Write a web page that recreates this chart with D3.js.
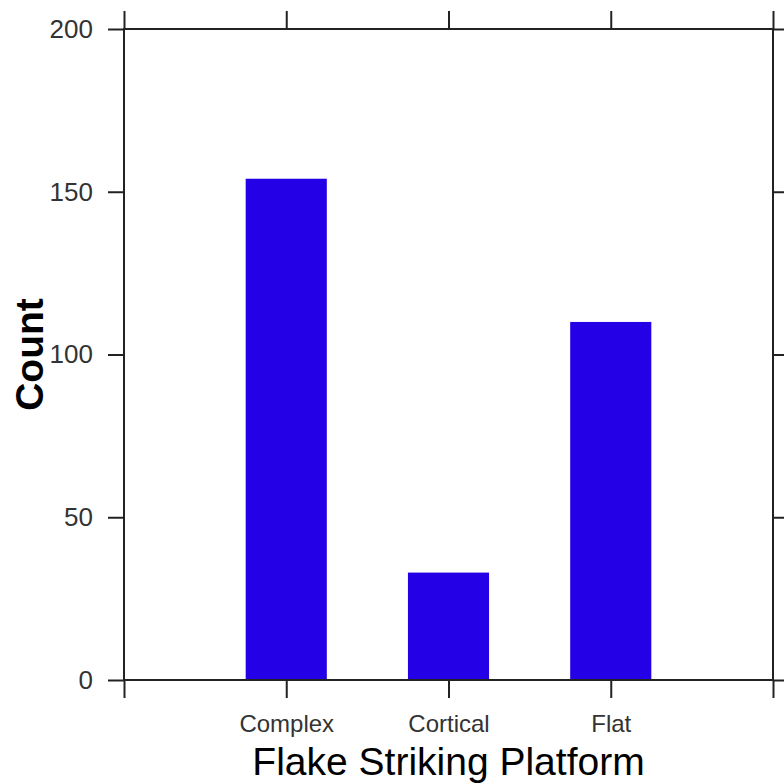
<!DOCTYPE html>
<html>
<head>
<meta charset="utf-8">
<script src="https://cdn.jsdelivr.net/npm/d3@7"></script>
<style>
  body { margin: 0; background: #fff; }
  .axis text { font-family: "Liberation Sans", Arial, sans-serif; fill: #333; }
  .axis path { display: none; }
  .axis line { stroke: #222; stroke-width: 2; }
</style>
</head>
<body>
<div id="chart"></div>
<script>
const platforms = ["Complex", "Cortical", "Flat"]
const counts = [154, 33, 110]
const yTicks = [0, 50, 100, 150, 200]

const width = 784
const height = 783
const margin = { top: 29, bottom: 103, left: 124, right: 11 }
const innerW = width - margin.left - margin.right
const innerH = height - margin.top - margin.bottom

const svg = d3.select("#chart").append("svg").attr("width", width).attr("height", height)
const g = svg.append("g").attr("transform", `translate(${margin.left}, ${margin.top})`)

// categories sit at 1..n, box runs from 0 to n+1
const x = d3.scaleLinear().domain([0, platforms.length + 1]).range([0, innerW])
const y = d3.scaleLinear().domain([0, 200]).range([innerH, 0])
const xTickVals = d3.range(0, platforms.length + 2)

// bars
g.selectAll("rect.bar").data(counts).enter()
    .append("rect")
    .attr("class", "bar")
    .attr("x", (d, i) => x(i + 1 - 0.25))
    .attr("width", x(0.5) - x(0))
    .attr("y", d => y(d))
    .attr("height", d => y(0) - y(d))
    .attr("fill", "#2300e5")

// axes
g.append("g").attr("class", "axis")
    .attr("transform", `translate(0, ${innerH})`)
    .call(d3.axisBottom(x).tickValues(xTickVals).tickSize(18).tickPadding(17)
        .tickFormat(i => platforms[i - 1] || ""))
    .selectAll("text").style("font-size", "24px")

g.append("g").attr("class", "axis")
    .call(d3.axisTop(x).tickValues(xTickVals).tickSize(18).tickFormat(""))

g.append("g").attr("class", "axis")
    .call(d3.axisLeft(y).tickValues(yTicks).tickSize(16).tickPadding(15))
    .selectAll("text").style("font-size", "26px")

g.append("g").attr("class", "axis")
    .attr("transform", `translate(${innerW}, 0)`)
    .call(d3.axisRight(y).tickValues(yTicks).tickSize(16).tickFormat(""))

// frame
g.append("rect")
    .attr("width", innerW).attr("height", innerH)
    .attr("fill", "none").attr("stroke", "#222").attr("stroke-width", 2)

// titles
svg.append("text")
    .attr("x", margin.left + innerW / 2).attr("y", 775)
    .attr("text-anchor", "middle")
    .style("font-family", "Liberation Sans, Arial, sans-serif")
    .style("font-size", "39px")
    .text("Flake Striking Platform")

svg.append("text")
    .attr("transform", `translate(43, ${margin.top + innerH / 2}) rotate(-90)`)
    .attr("text-anchor", "middle")
    .style("font-family", "Liberation Sans, Arial, sans-serif")
    .style("font-size", "39px")
    .style("font-weight", "bold")
    .text("Count")
</script>
</body>
</html>
